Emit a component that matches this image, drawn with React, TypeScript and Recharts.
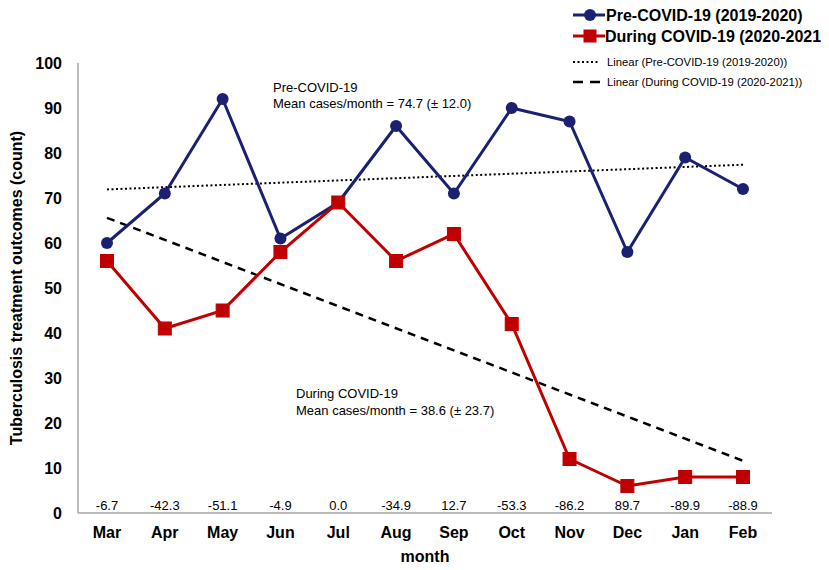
import {
  Line,
  LineChart,
  ReferenceLine,
  XAxis,
  YAxis,
} from "recharts";

const months = ["Mar", "Apr", "May", "Jun", "Jul", "Aug", "Sep", "Oct", "Nov", "Dec", "Jan", "Feb"];
const preCovid = [60, 71, 92, 61, 69, 86, 71, 90, 87, 58, 79, 72];
const duringCovid = [56, 41, 45, 58, 69, 56, 62, 42, 12, 6, 8, 8];
const pctChange = ["-6.7", "-42.3", "-51.1", "-4.9", "0.0", "-34.9", "12.7", "-53.3", "-86.2", "89.7", "-89.9", "-88.9"];
// trend line end points (first month, last month)
const preTrend = [71.9, 77.4];
const duringTrend = [65.6, 11.6];
const yTicks = [0, 10, 20, 30, 40, 50, 60, 70, 80, 90, 100];

const NAVY = "#1b2170";
const RED = "#c00000";
const AXIS = "#a6a6a6";
const FONT = "'Liberation Sans', Arial, sans-serif";

const data = months.map((m, i) => ({
  month: m,
  pre: preCovid[i],
  during: duringCovid[i],
}));

const MonthTick = ({ x, y, payload }: any) => {
  const i = months.indexOf(payload.value);
  return (
    <g>
      <text x={x} y={y - 3} textAnchor="middle" fontSize={13} fill="#000" fontFamily={FONT}>
        {pctChange[i]}
      </text>
      <text x={x} y={y + 25} textAnchor="middle" fontSize={16} fontWeight="bold" fill="#000" fontFamily={FONT}>
        {payload.value}
      </text>
    </g>
  );
};

const SquareDot = ({ cx, cy }: any) => (
  <rect x={cx - 6.5} y={cy - 6.5} width={13} height={13} fill={RED} stroke={RED} />
);

const Overlay = () => (
  <svg
    width={821}
    height={562}
    style={{ position: "absolute", left: 0, top: 0, pointerEvents: "none" }}
    fontFamily={FONT}
  >
    {/* legend */}
    <line x1={565} x2={597} y1={7} y2={7} stroke={NAVY} strokeWidth={3} />
    <circle cx={582} cy={7} r={6} fill={NAVY} />
    <text x={598} y={13} fontSize={16} fontWeight="bold">Pre-COVID-19 (2019-2020)</text>
    <line x1={565} x2={597} y1={28} y2={28} stroke={RED} strokeWidth={3} />
    <rect x={575.5} y={21.5} width={13} height={13} fill={RED} />
    <text x={597} y={34} fontSize={16} fontWeight="bold">During COVID-19 (2020-2021)</text>
    <line x1={565} x2={591} y1={54} y2={54} stroke="#000" strokeWidth={2} strokeDasharray="2 2.5" />
    <text x={599} y={58} fontSize={11.3}>Linear (Pre-COVID-19 (2019-2020))</text>
    <line x1={565} x2={593} y1={74} y2={74} stroke="#000" strokeWidth={2.5} strokeDasharray="10 7" />
    <text x={599} y={78} fontSize={11.3}>Linear (During COVID-19 (2020-2021))</text>

    {/* annotations */}
    <text x={265} y={84} fontSize={13}>Pre-COVID-19</text>
    <text x={265} y={100} fontSize={13}>Mean cases/month = 74.7 (± 12.0)</text>
    <text x={288} y={390} fontSize={13}>During COVID-19</text>
    <text x={288} y={407} fontSize={13}>Mean cases/month = 38.6 (± 23.7)</text>

    {/* y axis title */}
    <text
      x={0}
      y={0}
      transform="translate(8 280) rotate(-90)"
      textAnchor="middle"
      dominantBaseline="central"
      fontSize={16}
      fontWeight="bold"
    >
      Tuberculosis treatment outcomes (count)
    </text>
  </svg>
);

export default function App() {
  return (
    <div style={{ position: "relative", width: 821, height: 562, background: "#fff", fontFamily: FONT }}>
      <LineChart
        width={821}
        height={562}
        data={data}
        margin={{ top: 55, right: 57, left: 0, bottom: 8 }}
      >
        <XAxis
          dataKey="month"
          padding={{ left: 29, right: 29 }}
          tickLine={false}
          tickSize={0}
          tickMargin={0}
          height={49}
          axisLine={{ stroke: AXIS, strokeWidth: 1.5 }}
          tick={<MonthTick />}
          interval={0}
          label={{
            value: "month",
            position: "insideBottom",
            offset: 0,
            fontSize: 16,
            fontWeight: "bold",
            fill: "#000",
            fontFamily: FONT,
          }}
        />
        <YAxis
          domain={[0, 100]}
          ticks={yTicks}
          width={70}
          tickLine={false}
          tickMargin={10}
          axisLine={{ stroke: AXIS, strokeWidth: 1.5 }}
          tick={{ fontSize: 16, fontWeight: "bold", fill: "#000", fontFamily: FONT }}
          interval={0}
        />
        <ReferenceLine
          segment={[
            { x: months[0], y: preTrend[0] },
            { x: months[months.length - 1], y: preTrend[1] },
          ]}
          stroke="#000"
          strokeWidth={2}
          strokeDasharray="2 2.5"
        />
        <ReferenceLine
          segment={[
            { x: months[0], y: duringTrend[0] },
            { x: months[months.length - 1], y: duringTrend[1] },
          ]}
          stroke="#000"
          strokeWidth={2.5}
          strokeDasharray="8 6"
        />
        <Line
          type="linear"
          dataKey="pre"
          stroke={NAVY}
          strokeWidth={3}
          dot={{ r: 6, fill: NAVY, stroke: NAVY, strokeWidth: 0 }}
          isAnimationActive={false}
        />
        <Line
          type="linear"
          dataKey="during"
          stroke={RED}
          strokeWidth={3}
          dot={<SquareDot />}
          isAnimationActive={false}
        />
      </LineChart>
      <Overlay />
    </div>
  );
}
